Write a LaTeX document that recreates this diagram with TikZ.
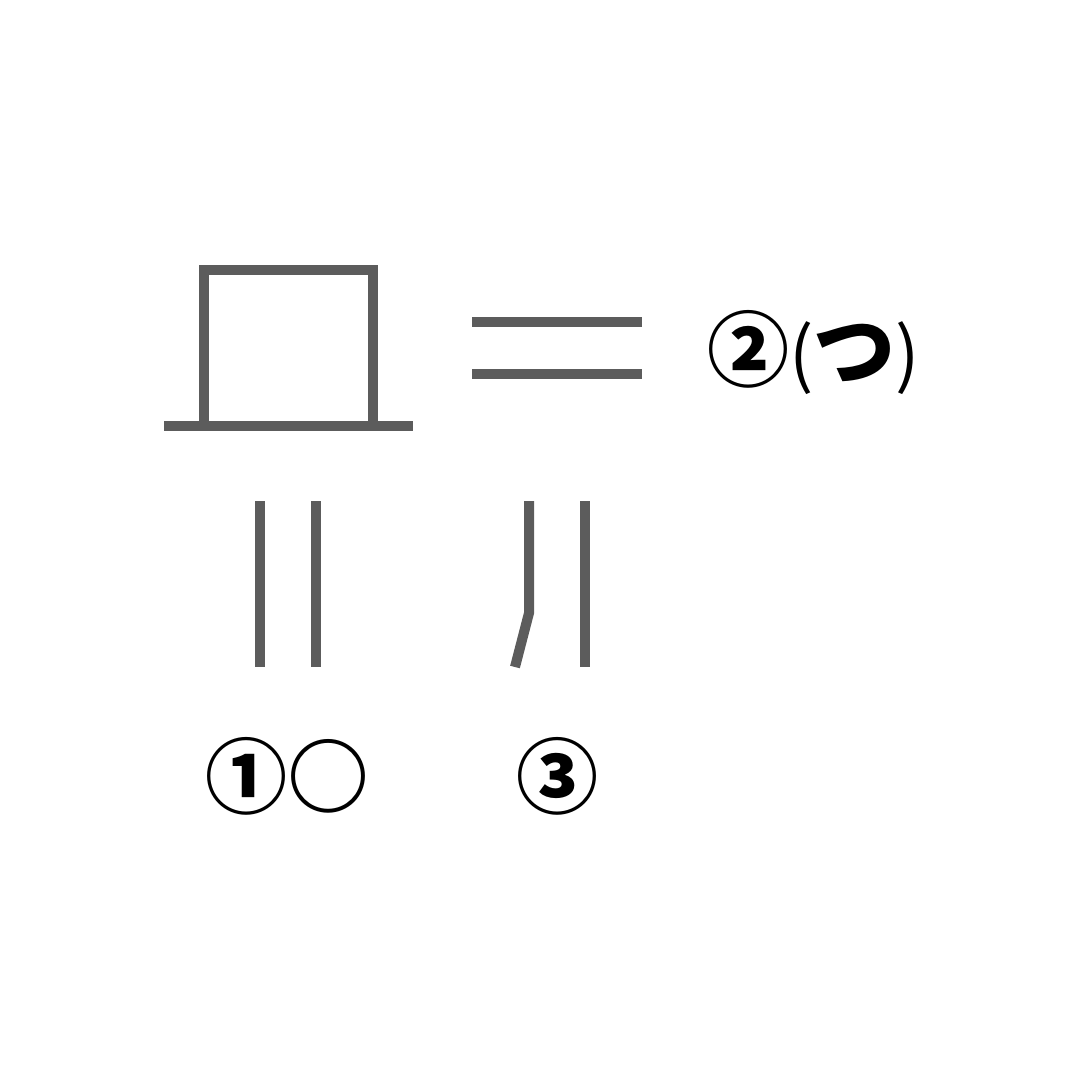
\documentclass[tikz,border=0pt]{standalone}
\usepackage{fontspec}
\newfontfamily\cjk{Noto Sans CJK JP}
\usetikzlibrary{positioning}

\begin{document}
\begin{tikzpicture}
    [x=1pt,y=-1pt,
     stroke/.style={draw=black!64,line width=10pt},
     label/.style={inner sep=0pt,font=\cjk\bfseries\fontsize{82}{82}\selectfont}]
    \useasboundingbox (0,0) rectangle (1080,1080);
    % the box with its base line
    \draw[stroke] (199,270) -- (378,270);
    \draw[stroke] (204,265) -- (204,431);
    \draw[stroke] (373,265) -- (373,431);
    \draw[stroke] (164,426) -- (413,426);
    % the two bars
    \draw[stroke] (472,322) -- (642,322);
    \draw[stroke] (472,374) -- (642,374);
    % lower strokes
    \draw[stroke] (260,501) -- (260,667);
    \draw[stroke] (316,501) -- (316,667);
    \draw[stroke] (529,501) -- (529,613) -- (515,667);
    \draw[stroke] (585,501) -- (585,667);

    \node[label,anchor=west] (two) at (707,352) {②{\mdseries\fontsize{72}{72}\selectfont(}つ{\mdseries\fontsize{72}{72}\selectfont)}};
    \node[label] (one) at (287,776) {①○};
    \node[label] (three) at (557,776) {③};
\end{tikzpicture}
\end{document}
